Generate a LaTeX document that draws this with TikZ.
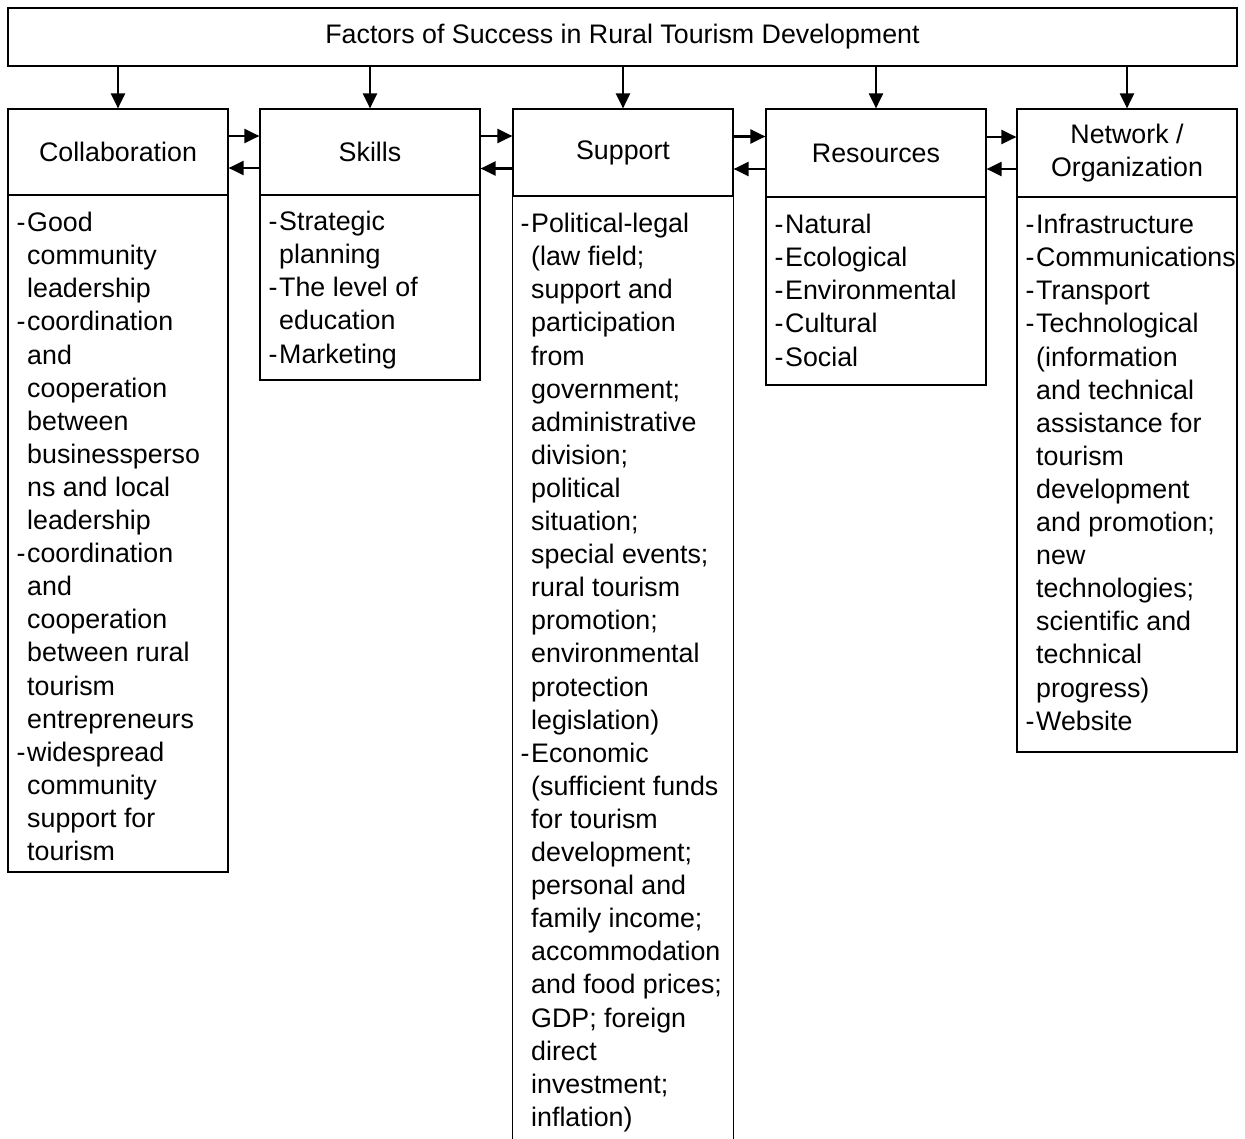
\documentclass[tikz,border=0pt]{standalone}
\usepackage{fontspec}
\setmainfont{Liberation Sans}
\usetikzlibrary{arrows.meta,calc}
% list entry with a leading dash, and a continuation line aligned after it
\newcommand{\fitem}[1]{\makebox[10.5pt][l]{-}#1}
\newcommand{\fcont}[1]{\hspace*{10.5pt}#1}
\begin{document}
\begin{tikzpicture}[x=1pt,y=-1pt,
  box/.style={draw, line width=1.2pt, inner sep=0pt},
  head/.style={box, font=\fontsize{26.8}{33.1}\selectfont, align=center, minimum width=220pt},
  txt/.style={font=\fontsize{26.8}{33.1}\selectfont, align=left, anchor=north west, inner sep=0pt},
  arr/.style={line width=2.2pt, -{Triangle[length=15pt,width=14pt]}}]
\useasboundingbox (0,0) rectangle (1245,1138);

% title
\node[box, font=\fontsize{26.8}{33.1}\selectfont, minimum width=1229pt, minimum height=58pt] (title) at (622.5,37) {Factors of Success in Rural Tourism Development};

% headers
\node[head, minimum height=86pt] (hC) at (118,152) {Collaboration};
\node[head, minimum height=86pt] (hS) at (370,152) {Skills};
\node[head, minimum height=87pt] (hP) at (623,152.5) {Support};
\node[head, minimum height=88pt] (hR) at (876,153) {Resources};
\node[head, minimum height=88pt] (hN) at (1127,153) {Network /\\Organization};

% bodies
\node[box, minimum width=220pt, minimum height=677pt] (bC) at (118,533.5) {};
\node[box, minimum width=220pt, minimum height=185pt] (bS) at (370,287.5) {};
\node[inner sep=0pt, minimum width=220pt, minimum height=954pt] (bP) at (623,673) {};
\draw[line width=1.2pt] (bP.south west) -- (bP.north west) -- (bP.north east) -- (bP.south east);
\node[box, minimum width=220pt, minimum height=188pt] (bR) at (876,291) {};
\node[box, minimum width=220pt, minimum height=555pt] (bN) at (1127,474.5) {};

% body texts
\node[txt] (tC) at (16.5,212) {\fitem{Good}\\\fcont{community}\\\fcont{leadership}\\
\fitem{coordination}\\\fcont{and}\\\fcont{cooperation}\\\fcont{between}\\\fcont{businessperso}\\\fcont{ns and local}\\\fcont{leadership}\\
\fitem{coordination}\\\fcont{and}\\\fcont{cooperation}\\\fcont{between rural}\\\fcont{tourism}\\\fcont{entrepreneurs}\\
\fitem{widespread}\\\fcont{community}\\\fcont{support for}\\\fcont{tourism}};

\node[txt] (tS) at (268.5,211) {\fitem{Strategic}\\\fcont{planning}\\\fitem{The level of}\\\fcont{education}\\\fitem{Marketing}};

\node[txt] (tP) at (520.5,213) {\fitem{Political-legal}\\\fcont{(law field;}\\\fcont{support and}\\\fcont{participation}\\\fcont{from}\\\fcont{government;}\\\fcont{administrative}\\\fcont{division;}\\\fcont{political}\\\fcont{situation;}\\\fcont{special events;}\\\fcont{rural tourism}\\\fcont{promotion;}\\\fcont{environmental}\\\fcont{protection}\\\fcont{legislation)}\\
\fitem{Economic}\\\fcont{(sufficient funds}\\\fcont{for tourism}\\\fcont{development;}\\\fcont{personal and}\\\fcont{family income;}\\\fcont{accommodation}\\\fcont{and food prices;}\\\fcont{GDP; foreign}\\\fcont{direct}\\\fcont{investment;}\\\fcont{inflation)}};

\node[txt] (tR) at (774.5,214) {\fitem{Natural}\\\fitem{Ecological}\\\fitem{Environmental}\\\fitem{Cultural}\\\fitem{Social}};

\node[txt] (tN) at (1025.5,214) {\fitem{Infrastructure}\\\fitem{Communications}\\\fitem{Transport}\\\fitem{Technological}\\\fcont{(information}\\\fcont{and technical}\\\fcont{assistance for}\\\fcont{tourism}\\\fcont{development}\\\fcont{and promotion;}\\\fcont{new}\\\fcont{technologies;}\\\fcont{scientific and}\\\fcont{technical}\\\fcont{progress)}\\\fitem{Website}};

% arrows from the title down to each factor
\foreach \h in {hC,hS,hP,hR,hN}
  \draw[arr] (title.south -| \h.north) -- (\h.north);

% two-way links between neighbouring factors
\foreach \a/\b in {hC/hS,hS/hP,hP/hR,hR/hN}{
  \draw[arr] ([yshift=16pt]\a.east) -- ([yshift=16pt]\a.east -| \b.west);
  \draw[arr] ([yshift=-16pt]\b.west) -- ([yshift=-16pt]\b.west -| \a.east);
}
\end{tikzpicture}
\end{document}
